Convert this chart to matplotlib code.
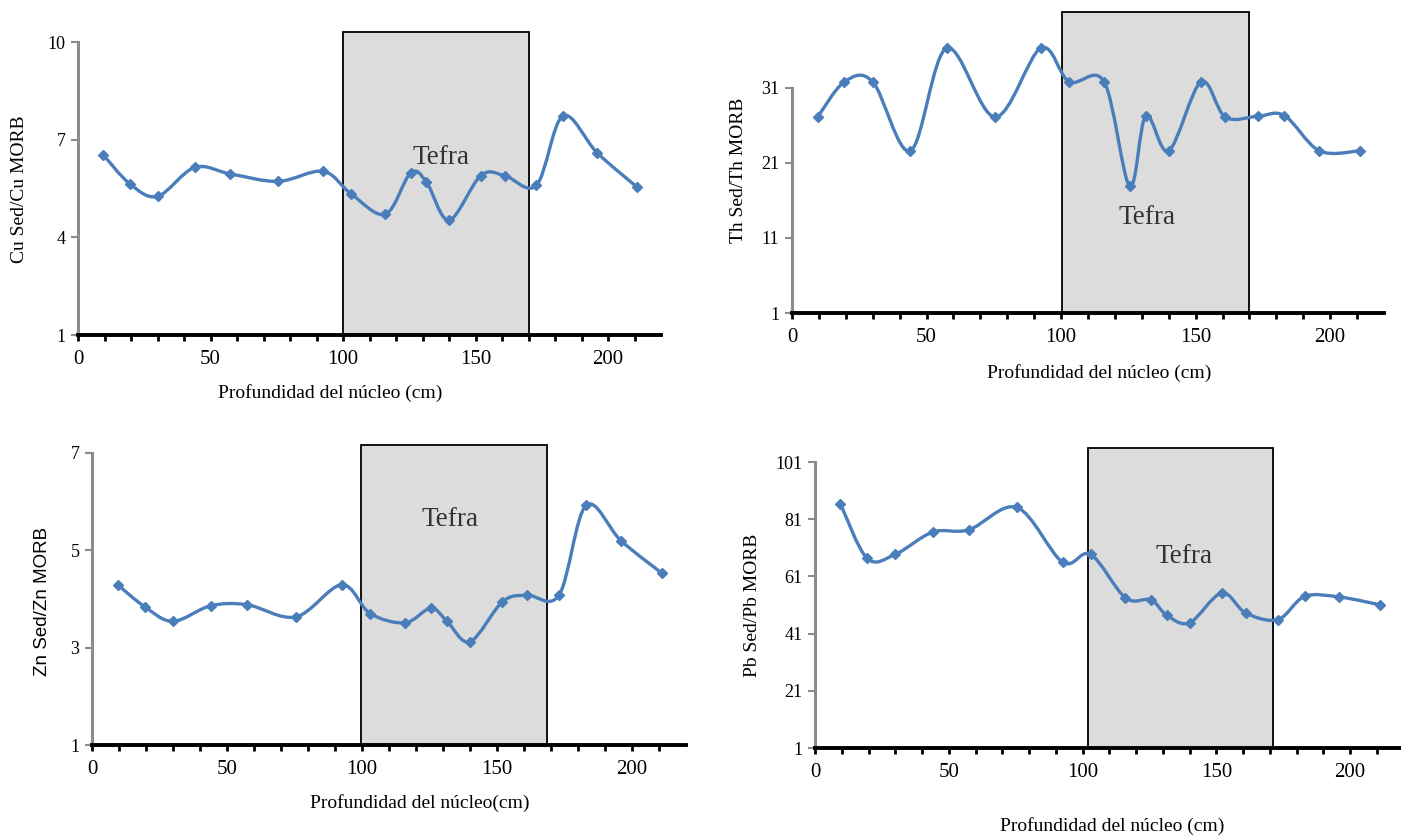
import numpy as np
import matplotlib.pyplot as plt
from matplotlib.path import Path
from matplotlib.patches import PathPatch, Rectangle
from matplotlib.ticker import MultipleLocator, FuncFormatter

plt.rcParams['font.family'] = ['Liberation Serif', 'DejaVu Serif']

# profundidad de las muestras (cm)
depth = [9.5, 19.5, 30, 44, 57.5, 75.5, 92.5, 103, 116, 125.5, 131.5, 140, 152, 161, 173, 183, 196, 211]

cu = [6.54, 5.65, 5.26, 6.15, 5.95, 5.72, 6.03, 5.34, 4.71, 5.98, 5.70, 4.53, 5.90, 5.90, 5.60, 7.73, 6.59, 5.54]
th = [27.1, 31.8, 31.8, 22.6, 36.3, 27.1, 36.3, 31.8, 31.8, 17.9, 27.3, 22.6, 31.8, 27.1, 27.2, 27.3, 22.6, 22.6]
zn = [4.29, 3.84, 3.54, 3.86, 3.88, 3.63, 4.29, 3.70, 3.51, 3.81, 3.54, 3.12, 3.94, 4.08, 4.08, 5.92, 5.19, 4.53]
pb = [86.4, 67.3, 68.7, 76.5, 77.3, 85.1, 66.0, 68.7, 53.5, 52.8, 47.4, 44.8, 55.2, 48.2, 45.9, 54.0, 53.8, 51.1]

blue = '#4A7EBB'
W, H = 1401, 838

fig = plt.figure(figsize=(W / 100, H / 100), dpi=100)


def smooth_path(x, y):
    # curva suavizada tipo Excel (Catmull-Rom como Bezier cubica)
    p = np.column_stack([x, y]).astype(float)
    n = len(p)
    verts = [p[0]]
    codes = [Path.MOVETO]
    for i in range(n - 1):
        p0 = p[i - 1] if i > 0 else p[i]
        p3 = p[i + 2] if i + 2 < n else p[i + 1]
        c1 = p[i] + (p[i + 1] - p0) / 6
        c2 = p[i + 1] - (p3 - p[i]) / 6
        verts += [c1, c2, p[i + 1]]
        codes += [Path.CURVE4] * 3
    return Path(verts, codes)


def panel(left, right, ybot, ytop, ylim, yticks, box, vals, ylab, xlab,
          ylab_xy, xlab_xy, tefra_xy, xmax=220, ylab_font=None):
    ax = fig.add_axes([left / W, (H - ybot) / H, (right - left) / W, (ybot - ytop) / H])
    ax.set_xlim(0, xmax)
    ax.set_ylim(*ylim)
    for s in ['top', 'right']:
        ax.spines[s].set_visible(False)
    ax.spines['left'].set_color('#8C8C8C')
    ax.spines['left'].set_linewidth(2.2)
    ax.spines['left'].set_bounds(yticks[0], yticks[-1])
    ax.spines['bottom'].set_color('black')
    ax.spines['bottom'].set_linewidth(2.8)
    ax.spines['bottom'].set_zorder(5)

    ax.set_yticks(yticks)
    ax.tick_params(axis='y', colors='#8C8C8C', length=5, width=1.5, labelcolor='black',
                   labelsize=13, pad=4)
    ax.xaxis.set_major_locator(MultipleLocator(10))
    ax.xaxis.set_major_formatter(FuncFormatter(lambda v, pos: '%d' % v if v % 50 == 0 else ''))
    ax.tick_params(axis='x', direction='out', length=4, width=2, colors='black',
                   labelsize=15, pad=7)
    ax.set_xticks([t for t in range(0, xmax, 10)])

    rect = Rectangle((box[0], ylim[0]), box[1] - box[0], ylim[1] - ylim[0],
                     facecolor='#DCDCDC', edgecolor='black', linewidth=1.3, zorder=1,
                     clip_on=False)
    ax.add_patch(rect)
    ax.text(tefra_xy[0], tefra_xy[1], 'Tefra', fontsize=19.5, ha='center', va='center',
            color='#333333', zorder=2)

    ax.add_patch(PathPatch(smooth_path(depth, vals), facecolor='none', edgecolor=blue,
                           linewidth=2.4, zorder=3, clip_on=False))
    ax.plot(depth, vals, linestyle='none', marker='D', markersize=5, color=blue, zorder=4,
            clip_on=False)

    if ylab_font:
        ax.set_ylabel(ylab, fontsize=13.5, family=ylab_font)
    else:
        ax.set_ylabel(ylab, fontsize=14)
    ax.yaxis.label.set_va('center')
    ax.yaxis.set_label_coords(*ylab_xy)
    ax.set_xlabel(xlab, fontsize=14)
    ax.xaxis.label.set_va('center')
    ax.xaxis.set_label_coords(*xlab_xy)
    return ax


panel(78, 661, 335, 32, (1, 10.31), [1, 4, 7, 10], (100, 170), cu,
      'Cu Sed/Cu MORB', 'Profundidad del núcleo (cm)',
      (-0.1, 0.48), (0.432, -0.19), (137, 6.44))

panel(792, 1384, 313, 12, (1, 41.1), [1, 11, 21, 31], (100.5, 170), th,
      'Th Sed/Th MORB', 'Profundidad del núcleo (cm)',
      (-0.091, 0.475), (0.519, -0.2), (132, 13.7))

ax3 = panel(92, 686, 745, 445, (1, 7.16), [1, 3, 5, 7], (99.5, 168.5), zn,
            'Zn Sed/Zn MORB', 'Profundidad del núcleo(cm)',
            (-0.084, 0.48), (0.552, -0.193), (132.6, 5.62),
            ylab_font=['Liberation Sans', 'DejaVu Sans'])

ax4 = panel(815, 1401, 748, 448, (1, 105.9), [1, 21, 41, 61, 81, 101], (102, 171), pb,
            'Pb Sed/Pb MORB', 'Profundidad del núcleo (cm)',
            (-0.107, 0.477), (0.507, -0.26), (138, 68.1), xmax=219)
ax4.spines['left'].set_bounds(1, 101)

fig.savefig('out.png', dpi=100)
